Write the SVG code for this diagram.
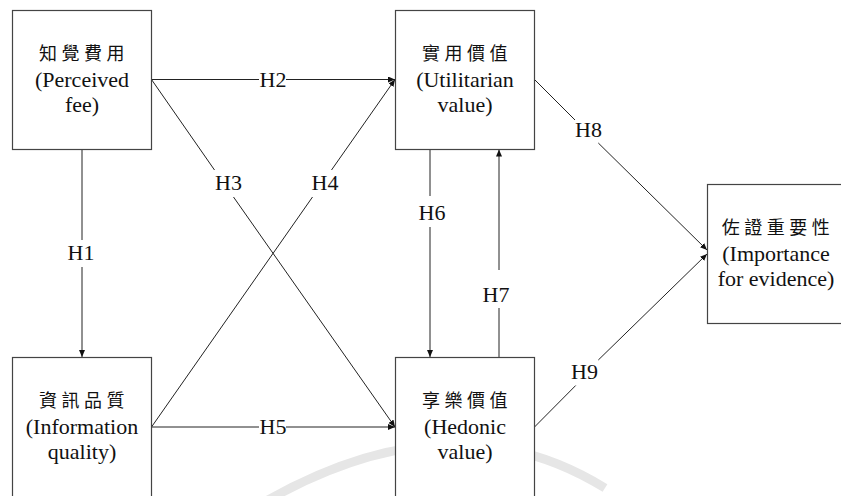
<svg xmlns="http://www.w3.org/2000/svg" width="841" height="496" viewBox="0 0 841 496">
<style>
.box{fill:#fff;stroke:#444;stroke-width:1.2}
.con{fill:none;stroke:#222;stroke-width:1}
</style>
<defs>
<marker id="arr" markerUnits="userSpaceOnUse" markerWidth="8" markerHeight="7" refX="7" refY="3" orient="auto">
<path d="M0,0 L7,3 L0,6 z" fill="#111"/>
</marker>
</defs>
<rect width="841" height="496" fill="#fff"/>
<path d="M268,500 Q455,395 605,488" fill="none" stroke="#e6e6e6" stroke-width="9"/>

<g id="connectors">
<path class="con" d="M82,149.5 L82,240 M82,267 L82,357" marker-end="url(#arr)"/>
<path class="con" d="M151.5,79.5 L259,79.5 M286,79.5 L395,79.5" marker-end="url(#arr)"/>
<path class="con" d="M151.5,79.5 L214.5,170 M233.5,197 L395,427" marker-end="url(#arr)"/>
<path class="con" d="M151.5,427 L312.5,197 M331.5,170 L395,79.5" marker-end="url(#arr)"/>
<path class="con" d="M151.5,427 L259,427 M286,427 L395,427" marker-end="url(#arr)"/>
<path class="con" d="M430,149.5 L430,196 M430,227 L430,357" marker-end="url(#arr)"/>
<path class="con" d="M499,357 L499,308 M499,270 L499,149.5" marker-end="url(#arr)"/>
<path class="con" d="M534.5,79.5 L575,120 M598.3,143 L707,250" marker-end="url(#arr)"/>
<path class="con" d="M534.5,427 L575.7,385.5 M598.3,360 L707,254" marker-end="url(#arr)"/>
<g font-family="'Liberation Serif', 'Noto Sans CJK TC', serif" font-size="22" fill="#111" text-anchor="middle">
<text x="81" y="260">H1</text>
<text x="273" y="87">H2</text>
<text x="228.5" y="190">H3</text>
<text x="325" y="190">H4</text>
<text x="273" y="434">H5</text>
<text x="432" y="220">H6</text>
<text x="496" y="301.5">H7</text>
<text x="588.5" y="137">H8</text>
<text x="584.5" y="379">H9</text>
</g>
</g>

<g id="perceived-fee" fill="#111" text-anchor="middle" font-family="'Liberation Serif', 'Noto Sans CJK TC', serif">
<rect class="box" x="12.5" y="10.5" width="139" height="139"/>
<text font-size="18" letter-spacing="4.5" x="84" y="60">知覺費用</text>
<text font-size="22" x="82" y="87">(Perceived</text>
<text font-size="22" x="82" y="112">fee)</text>
</g>

<g id="utilitarian-value" fill="#111" text-anchor="middle" font-family="'Liberation Serif', 'Noto Sans CJK TC', serif">
<rect class="box" x="395.5" y="10.5" width="139" height="139"/>
<text font-size="18" letter-spacing="4.5" x="467" y="60">實用價值</text>
<text font-size="22" x="465" y="87">(Utilitarian</text>
<text font-size="22" x="465" y="112">value)</text>
</g>

<g id="information-quality" fill="#111" text-anchor="middle" font-family="'Liberation Serif', 'Noto Sans CJK TC', serif">
<rect class="box" x="12.5" y="357.5" width="139" height="141"/>
<text font-size="18" letter-spacing="4.5" x="84" y="407">資訊品質</text>
<text font-size="22" x="82" y="434">(Information</text>
<text font-size="22" x="82" y="459">quality)</text>
</g>

<g id="hedonic-value" fill="#111" text-anchor="middle" font-family="'Liberation Serif', 'Noto Sans CJK TC', serif">
<rect class="box" x="395.5" y="357.5" width="139" height="141"/>
<text font-size="18" letter-spacing="4.5" x="467" y="407">享樂價值</text>
<text font-size="22" x="465" y="434">(Hedonic</text>
<text font-size="22" x="465" y="459">value)</text>
</g>

<g id="importance-for-evidence" fill="#111" text-anchor="middle" font-family="'Liberation Serif', 'Noto Sans CJK TC', serif">
<rect class="box" x="707.5" y="184.5" width="139" height="139"/>
<text font-size="18" letter-spacing="4.5" x="778" y="234">佐證重要性</text>
<text font-size="22" x="776" y="261">(Importance</text>
<text font-size="22" x="776" y="286">for evidence)</text>
</g>
</svg>
